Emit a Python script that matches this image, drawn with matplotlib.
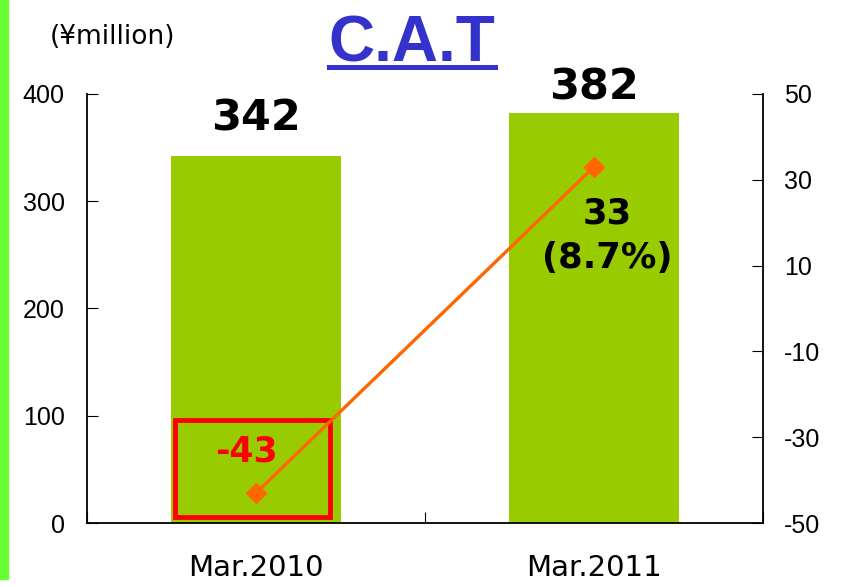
import matplotlib.pyplot as plt
import numpy as np
from matplotlib.lines import Line2D
from matplotlib.patches import Rectangle

plt.rcParams["axes.unicode_minus"] = False

# values
categories = ["Mar.2010", "Mar.2011"]
sales = [342, 382]          # left axis, bars (¥million)
profit = [-43, 33]          # right axis, line
profit_labels = ["-43", "33\n(8.7%)"]

bar_color = "#99CC00"
line_color = "#FF6600"
title_color = "#3333CC"
tick_font = "Liberation Sans"

fig = plt.figure(figsize=(8.54, 5.87), dpi=100)
ax = fig.add_axes([0.1019, 0.109, 0.7915, 0.731])

x = np.arange(len(categories)) + 0.5
ax.bar(x, sales, width=0.505, color=bar_color, zorder=1)
ax.set_xlim(0, 2)
ax.set_ylim(0, 400)
ax.set_yticks(np.arange(0, 401, 100))
ax.tick_params(axis="y", direction="in", length=8, labelsize=18, pad=16)
for lab in ax.get_yticklabels():
    lab.set_family(tick_font)
ax.set_xticks([0, 1, 2])
ax.set_xticklabels([])
ax.tick_params(axis="x", direction="in", length=8)
ax.set_xticks(x, minor=True)
ax.set_xticklabels(categories, minor=True, fontsize=21)
ax.tick_params(axis="x", which="minor", length=0, pad=22)
ax.spines["top"].set_visible(False)
ax.spines["right"].set_visible(False)
for s in ["left", "bottom"]:
    ax.spines[s].set_linewidth(1.3)

# bar value labels (offsets differ a little in the reference)
label_offsets = [35, 24]
for xi, v, off in zip(x, sales, label_offsets):
    ax.text(xi, v + off, str(v), ha="center", va="center", fontsize=31,
            fontweight="bold")

ax2 = ax.twinx()
ax2.set_ylim(-50, 50)
ax2.set_yticks(np.arange(-50, 51, 20))
ax2.tick_params(axis="y", direction="in", length=8, labelsize=18, pad=15)
for lab in ax2.get_yticklabels():
    lab.set_family(tick_font)
for s in ["top", "left", "bottom"]:
    ax2.spines[s].set_visible(False)
ax2.spines["right"].set_linewidth(1.3)

ax2.plot(x, profit, color=line_color, lw=2.4, marker="D", markersize=10,
         zorder=4)

# red highlight box around the loss
ax2.add_patch(Rectangle((0.26, -48.6), 0.459, 22.5, fill=False,
                        edgecolor="#FF0000", lw=3.5, zorder=3))
ax2.text(0.473, -33.4, profit_labels[0], ha="center", va="center",
         fontsize=25, fontweight="bold", color="#FF0000", zorder=5)
ax2.text(1.538, 17.0, profit_labels[1], ha="center", va="center",
         fontsize=25.5, fontweight="bold", color="black", linespacing=1.4,
         zorder=5)

fig.text(0.0585, 0.937, "(¥million)", ha="left", va="center", fontsize=19)

title = fig.text(0.4824, 0.8944, "C.A.T", ha="center", va="baseline",
                 fontsize=46, fontweight="bold", color=title_color,
                 family="Liberation Sans")
fig.canvas.draw()
bb = title.get_window_extent().transformed(fig.transFigure.inverted())
fig.lines.append(Line2D([bb.x0, bb.x1], [0.8859, 0.8859],
                        transform=fig.transFigure, color=title_color, lw=3.6))

# green stripe on the left edge
fig.patches.append(Rectangle((0, 0.014), 0.0094, 0.986,
                             transform=fig.transFigure, color="#66FF33"))

fig.savefig("out.png", dpi=100)
